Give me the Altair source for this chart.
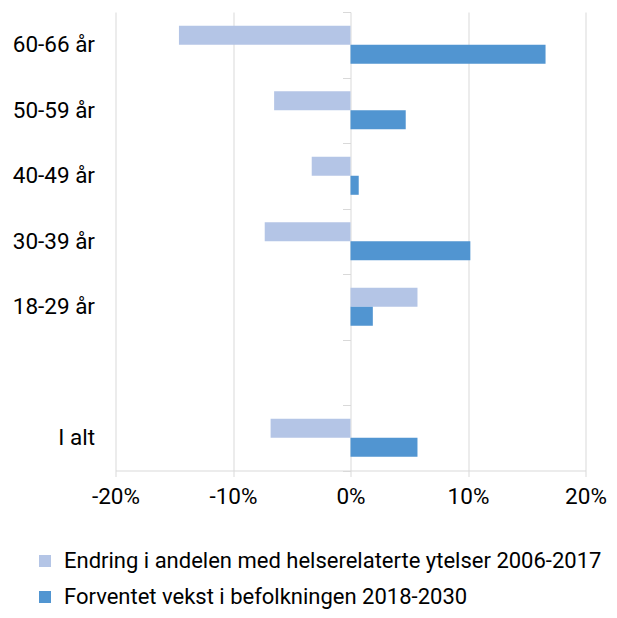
import altair as alt
import pandas as pd

categories = ["60-66 år", "50-59 år", "40-49 år", "30-39 år", "18-29 år", " ", "I alt"]
series = ["Endring i andelen med helserelaterte ytelser 2006-2017",
          "Forventet vekst i befolkningen 2018-2030"]
endring = [-0.146, -0.065, -0.033, -0.073, 0.057, None, -0.068]
vekst = [0.166, 0.047, 0.007, 0.102, 0.019, None, 0.057]
x_ticks = [-0.2, -0.1, 0.0, 0.1, 0.2]
colors = ["#B4C5E6", "#5195D1"]

rows = []
for c, a, b in zip(categories, endring, vekst):
    if a is not None:
        rows.append({"kategori": c, "serie": series[0], "verdi": a})
    if b is not None:
        rows.append({"kategori": c, "serie": series[1], "verdi": b})
df = pd.DataFrame(rows)

FONT = "Roboto"
FS = 22.5
GRID = "#D9D9D9"

chart = alt.Chart(df).mark_bar().encode(
    x=alt.X("verdi:Q",
            scale=alt.Scale(domain=[-0.2, 0.2], nice=False, zero=False),
            axis=alt.Axis(values=x_ticks, format=".0%", title=None, grid=True,
                          labelExpr="replace(datum.label, '\u2212', '-')",
                          gridColor=GRID, domainColor=GRID, tickColor=GRID,
                          tickSize=6, labelFontSize=FS, labelFont=FONT,
                          labelColor="#000000", labelPadding=9,
                          labelFlush=False)),
    y=alt.Y("kategori:N",
            scale=alt.Scale(domain=categories, paddingInner=0, paddingOuter=0),
            axis=alt.Axis(title=None, offset=-235, domain=False, tickBand="extent",
                          tickColor=GRID, tickSize=8, labelPadding=248,
                          labelFontSize=FS, labelFont=FONT, labelColor="#000000",
                          grid=False)),
    yOffset=alt.YOffset("serie:N", sort=series,
                        scale=alt.Scale(domain=series, paddingInner=0, paddingOuter=0.72)),
    color=alt.Color("serie:N",
                    scale=alt.Scale(domain=series, range=colors),
                    legend=alt.Legend(title=None, orient="none", legendX=-81.5,
                                      legendY=538, direction="vertical",
                                      symbolType="square", symbolSize=144,
                                      symbolStrokeWidth=0, labelFontSize=22,
                                      labelFont=FONT, labelColor="#000000",
                                      labelOffset=8, rowPadding=14, padding=0,
                                      labelLimit=700)),
).properties(
    width=470, height=458.5,
    autosize=alt.AutoSizeParams(type="none"),
    padding={"left": 107.5, "top": 4, "right": 23.5, "bottom": 139.5},
).configure_view(stroke=None)

chart.save("out.html", embed_options={"renderer": "svg", "actions": False})
